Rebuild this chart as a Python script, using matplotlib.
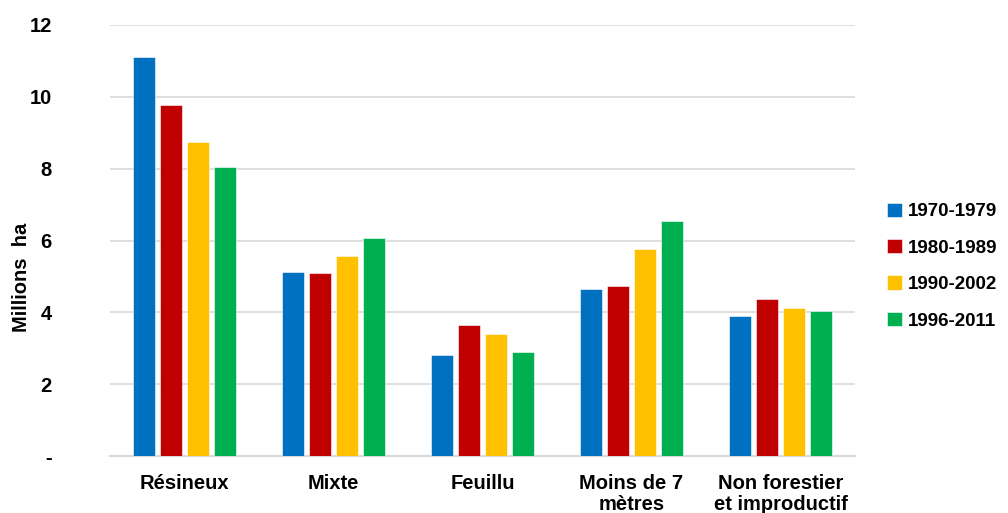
import matplotlib.pyplot as plt
import numpy as np

plt.rcParams['font.family'] = ['Liberation Sans', 'DejaVu Sans']
plt.rcParams['font.weight'] = 'bold'

categories = ['Résineux', 'Mixte', 'Feuillu', 'Moins de 7\nmètres', 'Non forestier\net improductif']
periods = ['1970-1979', '1980-1989', '1990-2002', '1996-2011']
v_1970 = [11.10, 5.12, 2.81, 4.64, 3.90]
v_1980 = [9.77, 5.09, 3.65, 4.73, 4.36]
v_1990 = [8.74, 5.57, 3.40, 5.76, 4.13]
v_1996 = [8.04, 6.07, 2.90, 6.54, 4.05]
colors = ['#0070C0', '#C00000', '#FFC000', '#00B050']

series = [v_1970, v_1980, v_1990, v_1996]

fig = plt.figure(figsize=(10.08, 5.13), dpi=100)
ax = fig.add_axes([110/1008, 57/513, 745/1008, 431/513])

x = np.arange(len(categories))
pitch = 0.181
width = 0.148
for i, vals in enumerate(series):
    ax.bar(x + (i - 1.5) * pitch, vals, width, color=colors[i], label=periods[i],
           edgecolor='white', linewidth=0.4, zorder=3)

ax.set_xlim(-0.5, 4.5)
ax.set_ylim(0, 12)
ax.set_yticks([0, 2, 4, 6, 8, 10, 12])
ax.set_yticklabels(['-', '2', '4', '6', '8', '10', '12'], fontsize=14.5, fontweight='bold')
ax.set_xticks(x)
ax.set_xticklabels(categories, fontsize=14.5, fontweight='bold', linespacing=1.15, va='top')
ax.tick_params(axis='both', length=0)
ax.tick_params(axis='y', pad=42)
ax.tick_params(axis='x', pad=13)

ax.grid(axis='y', color='#d9d9d9', linewidth=1.2, zorder=0)
for s in ['top', 'right', 'left']:
    ax.spines[s].set_visible(False)
ax.spines['bottom'].set_color('#d9d9d9')
ax.spines['bottom'].set_linewidth(1.5)

fig.text(22/1008, 1 - 277/513, 'Millions  ha', rotation=90, fontsize=14.5, fontweight='bold',
         ha='center', va='center')

leg = fig.legend(loc='center left', bbox_to_anchor=(887/1008, 1 - 266/513), frameon=False,
                 borderaxespad=0, borderpad=0,
                 handlelength=0.8, handleheight=0.8, handletextpad=0.3,
                 labelspacing=1.0, prop={'weight': 'bold', 'size': 13.5})

fig.savefig('out.png', dpi=100)
